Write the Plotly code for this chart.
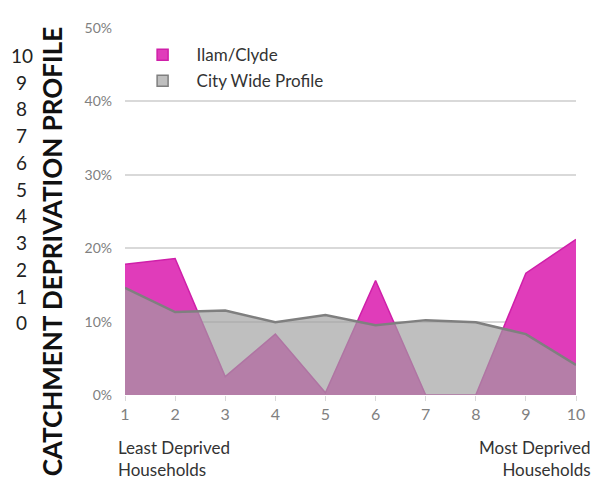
import plotly.graph_objects as go

deciles = [1, 2, 3, 4, 5, 6, 7, 8, 9, 10]
ilam_clyde = [0.178, 0.186, 0.025, 0.083, 0.003, 0.156, 0.0, 0.0, 0.166, 0.212]
city_wide = [0.146, 0.113, 0.115, 0.099, 0.109, 0.095, 0.102, 0.099, 0.083, 0.041]
y_ticks = [0, 0.1, 0.2, 0.3, 0.4, 0.5]
side_numbers = ["10", "9", "8", "7", "6", "5", "4", "3", "2", "1", "0"]

MAGENTA = "#e03cba"
MAGENTA_LINE = "#cf1fa9"
GRAY_FILL = "rgba(160,160,160,0.67)"
GRAY_LINE = "#7f7f7f"
FONT = "Lato, 'Open Sans', sans-serif"

# plot area: 117..568 px wide (451), 11..387 px tall (376), page has 8px offset
fig = go.Figure()
fig.add_trace(go.Scatter(
    x=deciles, y=ilam_clyde, mode="lines", fill="tozeroy",
    fillcolor=MAGENTA, line=dict(color=MAGENTA_LINE, width=1.5),
    showlegend=False, name="Ilam/Clyde",
))
fig.add_trace(go.Scatter(
    x=deciles, y=city_wide, mode="lines", fill="tozeroy",
    fillcolor=GRAY_FILL, line=dict(color=GRAY_LINE, width=2.5),
    showlegend=False, name="City Wide Profile",
))
# legend-only entries with square swatches
fig.add_trace(go.Scatter(
    x=[None], y=[None], mode="markers", name="Ilam/Clyde", legendgroup="a",
    marker=dict(symbol="square", size=11, color=MAGENTA, line=dict(color=MAGENTA_LINE, width=1.5)),
))
fig.add_trace(go.Scatter(
    x=[None], y=[None], mode="markers", name="City Wide Profile", legendgroup="b",
    marker=dict(symbol="square", size=11, color="#bfbfbf", line=dict(color=GRAY_LINE, width=1.5)),
))

annotations = [
    dict(text="<b>CATCHMENT DEPRIVATION PROFILE</b>", textangle=-90,
         xref="paper", yref="paper", x=-0.163, y=0.39, xanchor="center", yanchor="middle",
         showarrow=False, font=dict(size=26, color="#111111", family=FONT)),
    dict(text="Least Deprived<br>Households", xref="paper", yref="paper",
         x=-0.02, y=-0.108, xanchor="left", yanchor="top", align="left",
         showarrow=False, font=dict(size=17, color="#333333", family=FONT)),
    dict(text="Most Deprived<br>Households", xref="paper", yref="paper",
         x=1.038, y=-0.108, xanchor="right", yanchor="top", align="right",
         showarrow=False, font=dict(size=17, color="#333333", family=FONT)),
]
for i, label in enumerate(side_numbers):
    annotations.append(dict(
        text=label, xref="paper", yref="paper",
        x=-0.229, y=(395 - 47 - i * 27.4) / 376, xanchor="center", yanchor="middle",
        showarrow=False, font=dict(size=19, color="#222222", family=FONT),
    ))

fig.update_layout(
    width=605, height=488,
    margin=dict(l=117, r=37, t=11, b=101),
    paper_bgcolor="white", plot_bgcolor="white",
    font=dict(family=FONT),
    legend=dict(x=0.008, y=0.975, xanchor="left", yanchor="top",
                font=dict(size=17, color="#333333"), bgcolor="rgba(0,0,0,0)",
                itemwidth=58, tracegroupgap=1),
    annotations=annotations,
)
fig.update_xaxes(
    range=[1, 10], tickvals=deciles, showgrid=False, zeroline=False,
    showline=False, ticks="outside", ticklen=5, tickcolor="#d9d9d9",
    tickfont=dict(size=16, color="#808080"),
)
fig.update_yaxes(
    range=[0, 0.5], tickvals=y_ticks, tickformat=".0%", showgrid=True,
    gridcolor="#d9d9d9", gridwidth=1.5, zeroline=False, showline=False,
    tickfont=dict(size=14, color="#808080"), ticklabelstandoff=12,
)

fig.write_html("out.html")
